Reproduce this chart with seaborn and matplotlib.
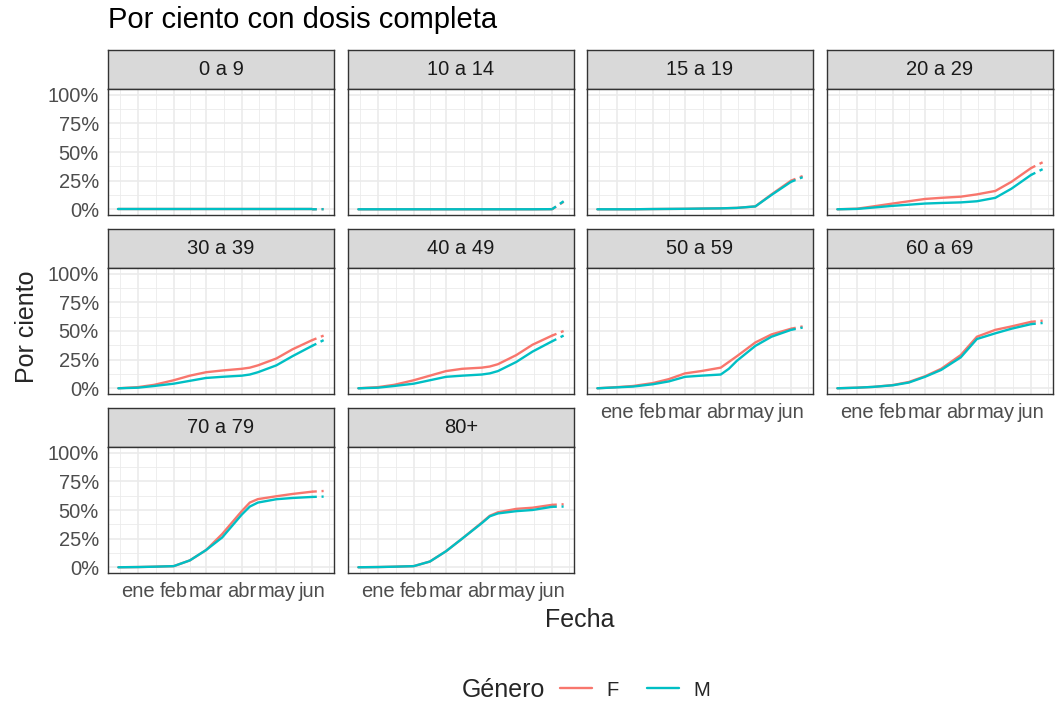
import pandas as pd
import numpy as np
import seaborn as sns
import matplotlib.pyplot as plt
import matplotlib.dates as mdates
from matplotlib.lines import Line2D

sns.set_style("white")
plt.rcParams['font.family'] = ['Liberation Sans', 'DejaVu Sans']

#### datos

fechas = ["2020-12-15", "2021-01-01", "2021-01-15", "2021-02-01", "2021-02-15",
          "2021-03-01", "2021-03-15", "2021-04-01", "2021-04-08", "2021-04-15",
          "2021-05-01", "2021-05-15", "2021-06-01", "2021-06-11"]
n_completo = 13   # los ultimos puntos (incompletos) van punteados

grupos = ["0 a 9", "10 a 14", "15 a 19", "20 a 29", "30 a 39",
          "40 a 49", "50 a 59", "60 a 69", "70 a 79", "80+"]

F_0_9 = [0, 0, 0, 0, 0, 0, 0, 0, 0, 0, 0, 0, 0, 0.1]
M_0_9 = [0, 0, 0, 0, 0, 0, 0, 0, 0, 0, 0, 0, 0, 0.1]
F_10_14 = [0, 0, 0, 0, 0, 0, 0, 0, 0, 0, 0, 0, 0.1, 6.5]
M_10_14 = [0, 0, 0, 0, 0, 0, 0, 0, 0, 0, 0, 0, 0.1, 7]
F_15_19 = [0, 0, 0, 0.2, 0.3, 0.4, 0.6, 0.8, 1.0, 1.2, 2.5, 13, 25, 29]
M_15_19 = [0, 0, 0, 0.2, 0.3, 0.4, 0.6, 0.8, 1.0, 1.2, 2.5, 12.5, 24, 28]
F_20_29 = [0, 0.5, 2.5, 5, 7, 9, 10, 11, 12, 13, 16, 24, 36, 41]
M_20_29 = [0, 0.3, 1.5, 3, 4, 5, 5.5, 6, 6.5, 7, 10, 18, 30, 35]
F_30_39 = [0, 1, 3, 7, 11, 14, 15.5, 17, 18, 20, 26, 34, 42, 46]
M_30_39 = [0, 0.5, 2, 4, 6.5, 9, 10, 11, 12, 14, 20, 28, 37, 42]
F_40_49 = [0, 1, 3, 7, 11, 15, 17, 18, 19, 21, 29, 38, 46, 50]
M_40_49 = [0, 0.5, 2, 4, 7, 10, 11, 12, 13, 15, 23, 32, 41, 46]
F_50_59 = [0, 1, 2, 4.5, 8, 13, 15, 18, 23, 28, 40, 47, 52, 54]
M_50_59 = [0, 0.8, 1.5, 3.5, 6, 10, 11, 12, 17, 24, 37, 45, 51, 53]
F_60_69 = [0, 0.5, 1.2, 2.8, 5.5, 10.5, 17, 29, 37, 45, 51, 54, 58, 59]
M_60_69 = [0, 0.5, 1.2, 2.6, 5, 10, 16, 27, 35, 43, 48, 52, 56, 57]
F_70_79 = [0, 0.2, 0.5, 1, 6, 15, 29, 49, 56.5, 59.5, 62, 64, 66, 66.6]
M_70_79 = [0, 0.2, 0.5, 1, 6, 15, 26, 46, 53, 56.5, 59.4, 60.5, 61.4, 61.7]
F_80 = [0, 0.2, 0.5, 1, 5, 14, 25, 39, 45, 48, 51, 52, 54.5, 55]
M_80 = [0, 0.2, 0.5, 1, 5, 14, 25, 38.5, 44.5, 47, 49, 50, 52.8, 53]

series_F = [F_0_9, F_10_14, F_15_19, F_20_29, F_30_39, F_40_49, F_50_59, F_60_69, F_70_79, F_80]
series_M = [M_0_9, M_10_14, M_15_19, M_20_29, M_30_39, M_40_49, M_50_59, M_60_69, M_70_79, M_80]

meses = ["2021-01-01", "2021-02-01", "2021-03-01", "2021-04-01", "2021-05-01", "2021-06-01"]
meses_lab = ["ene", "feb", "mar", "abr", "may", "jun"]
y_ticks = [0, 25, 50, 75, 100]
y_lab = ["0%", "25%", "50%", "75%", "100%"]

colores = {"F": "#F8766D", "M": "#00BFC4"}

rows = []
for g, vf, vm in zip(grupos, series_F, series_M):
    for gen, vals in (("F", vf), ("M", vm)):
        for i, (d, v) in enumerate(zip(fechas, vals)):
            rows.append({"grupo": g, "genero": gen, "fecha": pd.Timestamp(d),
                         "pct": v, "idx": i})
df = pd.DataFrame(rows)

#### figura

W, H = 1064, 707
fig = plt.figure(figsize=(W / 100, H / 100), dpi=100)

col_left = [108, 348, 587, 827]
panel_w = 226
row_top = [50, 229, 408]
strip_h = 39
panel_h = 126

fs_tick = 14.5
fs_titulo_eje = 18

xmin = pd.Timestamp("2020-12-06")
xmax = pd.Timestamp("2021-06-20")
mayor = [mdates.date2num(pd.Timestamp(m)) for m in ["2020-12-01"] + meses + ["2021-07-01"]]
menor = [(a + b) / 2 for a, b in zip(mayor[:-1], mayor[1:])]

for k, g in enumerate(grupos):
    r, c = k // 4, k % 4
    x0 = col_left[c]
    top = row_top[r]
    # strip
    sax = fig.add_axes([x0 / W, 1 - (top + strip_h) / H, panel_w / W, strip_h / H])
    sax.set_facecolor("#D9D9D9")
    sax.set_xticks([]); sax.set_yticks([])
    for s in sax.spines.values():
        s.set_color("#333333"); s.set_linewidth(1.0)
    sax.text(0.5, 0.5, g, ha="center", va="center", fontsize=fs_tick, color="#1A1A1A")

    ax = fig.add_axes([x0 / W, 1 - (top + strip_h + panel_h) / H, panel_w / W, panel_h / H])
    d = df[df.grupo == g]
    sns.lineplot(data=d[d.idx < n_completo], x="fecha", y="pct", hue="genero",
                 palette=colores, ax=ax, legend=False, linewidth=1.7, zorder=3)
    sns.lineplot(data=d[d.idx >= n_completo - 1], x="fecha", y="pct", hue="genero",
                 palette=colores, ax=ax, legend=False, linewidth=1.7, zorder=3,
                 linestyle=(0, (2, 2)))
    ax.set_xlim(xmin, xmax)
    ax.set_ylim(-5, 105)
    ax.set_xticks([mdates.date2num(pd.Timestamp(m)) for m in meses])
    ax.set_xticks(menor, minor=True)
    ax.set_yticks(y_ticks)
    ax.set_yticks([12.5, 37.5, 62.5, 87.5], minor=True)
    ax.grid(True, which="major", color="#EBEBEB", linewidth=1.2, zorder=0)
    ax.grid(True, which="minor", color="#EBEBEB", linewidth=0.6, zorder=0)
    ax.set_axisbelow(True)
    for s in ax.spines.values():
        s.set_color("#333333"); s.set_linewidth(1.0)
    ax.set_xlabel(""); ax.set_ylabel("")
    ax.tick_params(which="minor", length=0)
    ax.tick_params(which="major", length=4.5, width=1.0, color="#333333",
                   labelsize=fs_tick, labelcolor="#4D4D4D", pad=2)
    if k + 4 >= len(grupos):
        ax.set_xticklabels(meses_lab)
    else:
        ax.set_xticklabels([])
        ax.tick_params(axis="x", length=0)
    if c == 0:
        ax.set_yticklabels(y_lab)
    else:
        ax.set_yticklabels([])
        ax.tick_params(axis="y", length=0)

fig.text(108 / W, 1 - 20 / H, "Por ciento con dosis completa", fontsize=21,
         ha="left", va="center", color="#000000")
fig.text(580 / W, 1 - 620 / H, "Fecha", fontsize=fs_titulo_eje, ha="center", va="center")
fig.text(27 / W, 1 - 327 / H, "Por ciento", fontsize=fs_titulo_eje, ha="center", va="center",
         rotation=90)

fig.text(462 / W, 1 - 690 / H, "Género", fontsize=fs_titulo_eje, ha="left", va="center")
handles = [Line2D([], [], color=colores["F"], lw=1.7), Line2D([], [], color=colores["M"], lw=1.7)]
fig.legend(handles, ["F", "M"], ncol=2, loc="center left",
           bbox_to_anchor=(542 / W, 1 - 690 / H), frameon=False, fontsize=fs_tick,
           handlelength=1.6, columnspacing=1.4, handletextpad=0.7)

fig.savefig("out.png", dpi=100)
